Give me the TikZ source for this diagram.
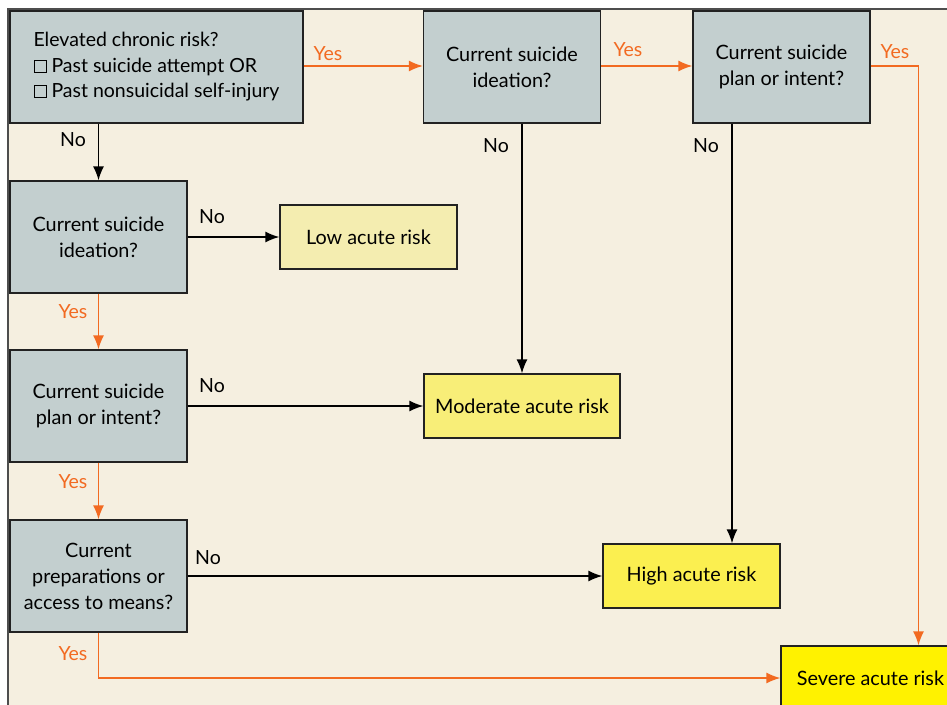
\documentclass[tikz,border=0pt]{standalone}
\usepackage{fontspec}
\setmainfont{Lato}
\usetikzlibrary{arrows.meta}
\definecolor{bgcream}{HTML}{F5EFE0}
\definecolor{qgray}{HTML}{C3CFCF}
\definecolor{yesorange}{HTML}{F26A21}
\definecolor{lowy}{HTML}{F4EDB0}
\definecolor{mody}{HTML}{F8EE78}
\definecolor{highy}{HTML}{FBEF50}
\definecolor{sevy}{HTML}{FFF200}
\definecolor{edgedark}{HTML}{222222}
\newcommand\cbox{\tikz[baseline=0pt]\draw[line width=0.9pt] (0pt,0pt) rectangle (0.62em,0.62em);}
\tikzset{
  qbox/.style={draw=edgedark, line width=1.3pt, fill=qgray, minimum width=177pt, minimum height=112pt, inner sep=0pt, align=center, font=\fontsize{19.8}{26}\selectfont},
  rbox/.style={draw=edgedark, line width=1.3pt, minimum width=177pt, minimum height=64pt, inner sep=0pt, align=center, font=\fontsize{19.8}{26}\selectfont},
  noarr/.style={draw=black, line width=1.5pt, -{Latex[length=14pt,width=11pt]}},
  yesarr/.style={draw=yesorange, line width=1.5pt, -{Latex[length=14pt,width=11pt]}},
  nolab/.style={text=black, font=\fontsize{19.5}{22}\selectfont, inner sep=0pt},
  yeslab/.style={text=yesorange, font=\fontsize{19.5}{22}\selectfont, inner sep=0pt},
}
\begin{document}
\begin{tikzpicture}[x=1pt,y=-1pt]
\useasboundingbox (0,0) rectangle (947,704);
\clip (0,0) rectangle (947,704);
\fill[white] (0,0) rectangle (947,704);
\fill[bgcream] (8,9) rectangle (960,720);
\draw[edgedark!80, line width=1.3pt] (8,720) -- (8,9) -- (960,9);

\node[qbox, minimum width=293pt, align=left, font=\fontsize{19.5}{25.5}\selectfont] (A) at (156.5,67)
  {Elevated chronic risk?\\ \cbox\ Past suicide attempt OR\\ \cbox\ Past nonsuicidal self-injury};
\node[qbox] (B) at (512,67) {Current suicide\\ ideation?};
\node[qbox] (C) at (781.5,67) {Current suicide\\ plan or intent?};
\node[qbox] (D) at (98.5,237) {Current suicide\\ ideation?};
\node[rbox, fill=lowy] (L) at (368.5,237) {Low acute risk};
\node[qbox] (E) at (98.5,406) {Current suicide\\ plan or intent?};
\node[rbox, fill=mody, minimum width=196pt] (M) at (522,406) {Moderate acute risk};
\node[qbox] (F) at (98.5,576) {Current\\ preparations or\\ access to means?};
\node[rbox, fill=highy] (H) at (691.5,576) {High acute risk};
\node[rbox, fill=sevy, minimum width=179pt] (S) at (870.5,678) {Severe acute risk};

% Yes connectors
\draw[yesarr] ([yshift=1]A.east) -- ([yshift=1]B.west);
\draw[yesarr] ([yshift=1]B.east) -- ([yshift=1]C.west);
\draw[yesarr] ([yshift=1]C.east) -| ([xshift=48]S.north);
\draw[yesarr] (D.south) -- (E.north);
\draw[yesarr] (E.south) -- (F.north);
\draw[yesarr] (F.south) |- (S.west);

% No connectors
\draw[noarr] (A.south -| D.north) -- (D.north);
\draw[noarr] (D.east) -- (L.west);
\draw[noarr] (B.south -| M.north) -- (M.north);
\draw[noarr] (E.east) -- (M.west);
\draw[noarr] ([xshift=-49.5]C.south) -- ([xshift=-49.5]C.south |- H.north);
\draw[noarr] (F.east) -- (H.west);

% labels
\node[yeslab] (y1) at (328,54) {Yes};
\node[yeslab] (y2) at (628,50) {Yes};
\node[yeslab] (y3) at (895,52) {Yes};
\node[yeslab] (y4) at (73,312) {Yes};
\node[yeslab] (y5) at (73,482) {Yes};
\node[yeslab] (y6) at (73,654) {Yes};
\node[nolab] (n1) at (73,140) {No};
\node[nolab] (n2) at (496,146) {No};
\node[nolab] (n3) at (706,146) {No};
\node[nolab] (n4) at (212,217) {No};
\node[nolab] (n5) at (212,386) {No};
\node[nolab] (n6) at (208,558) {No};
\end{tikzpicture}
\end{document}
